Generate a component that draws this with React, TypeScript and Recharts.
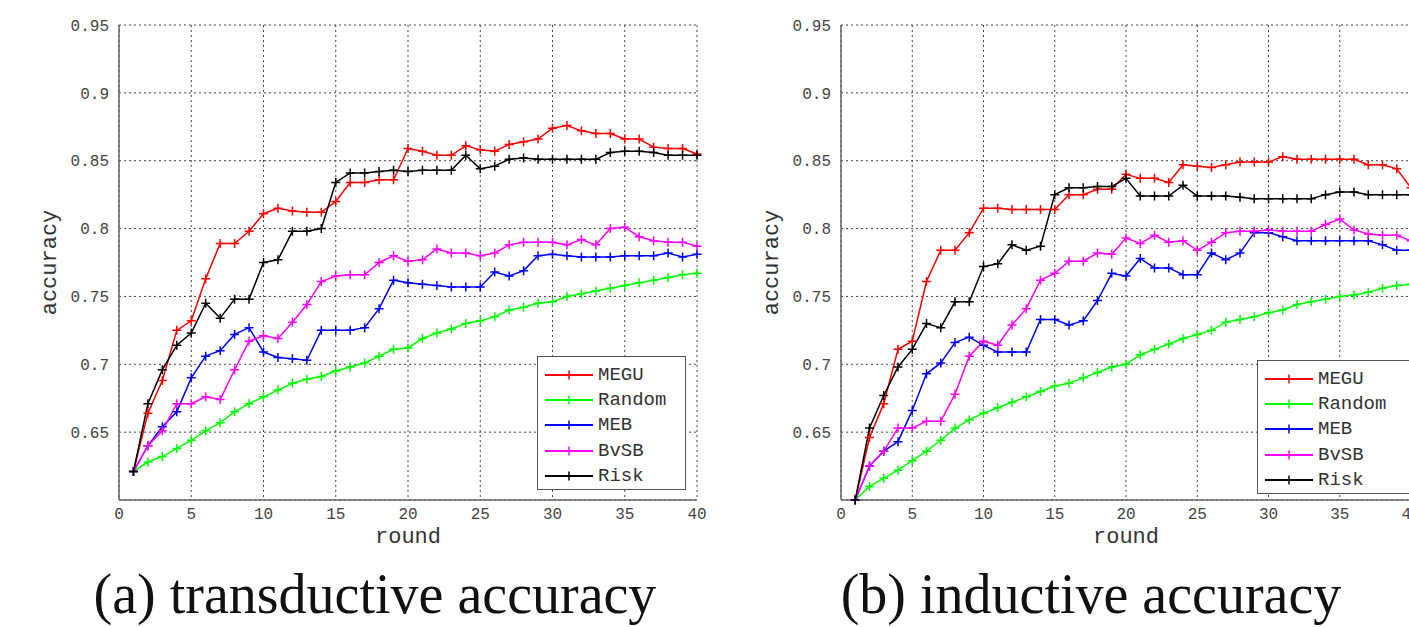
import { LineChart, Line, XAxis, YAxis, CartesianGrid, Legend } from 'recharts';

const rounds = [1, 2, 3, 4, 5, 6, 7, 8, 9, 10, 11, 12, 13, 14, 15, 16, 17, 18, 19, 20,
  21, 22, 23, 24, 25, 26, 27, 28, 29, 30, 31, 32, 33, 34, 35, 36, 37, 38, 39, 40];

const xTicks = [0, 5, 10, 15, 20, 25, 30, 35, 40];
const yTicks = [0.65, 0.7, 0.75, 0.8, 0.85, 0.9, 0.95];

// (a) transductive accuracy
const transMegu = [0.621, 0.664, 0.688, 0.725, 0.732, 0.763, 0.789, 0.789, 0.798, 0.811,
  0.815, 0.813, 0.812, 0.812, 0.82, 0.834, 0.834, 0.836, 0.836, 0.859,
  0.857, 0.854, 0.854, 0.861, 0.858, 0.857, 0.862, 0.864, 0.866, 0.874,
  0.876, 0.872, 0.87, 0.87, 0.866, 0.866, 0.86, 0.859, 0.859, 0.855];
const transRandom = [0.621, 0.628, 0.632, 0.638, 0.644, 0.651, 0.657, 0.665, 0.671, 0.676,
  0.681, 0.686, 0.689, 0.691, 0.695, 0.698, 0.701, 0.706, 0.711, 0.712,
  0.719, 0.723, 0.726, 0.73, 0.732, 0.735, 0.74, 0.742, 0.745, 0.746,
  0.75, 0.752, 0.754, 0.756, 0.758, 0.76, 0.762, 0.764, 0.766, 0.767];
const transMeb = [0.621, 0.64, 0.654, 0.665, 0.69, 0.706, 0.71, 0.722, 0.727, 0.709,
  0.705, 0.704, 0.703, 0.725, 0.725, 0.725, 0.727, 0.741, 0.762, 0.76,
  0.759, 0.758, 0.757, 0.757, 0.757, 0.768, 0.765, 0.769, 0.78, 0.781,
  0.78, 0.779, 0.779, 0.779, 0.78, 0.78, 0.78, 0.782, 0.779, 0.781];
const transBvsb = [0.621, 0.64, 0.651, 0.671, 0.671, 0.676, 0.674, 0.696, 0.717, 0.721,
  0.719, 0.731, 0.744, 0.761, 0.765, 0.766, 0.766, 0.775, 0.78, 0.776,
  0.777, 0.785, 0.782, 0.782, 0.78, 0.782, 0.788, 0.79, 0.79, 0.79,
  0.788, 0.792, 0.788, 0.8, 0.801, 0.794, 0.791, 0.79, 0.79, 0.787];
const transRisk = [0.621, 0.671, 0.696, 0.714, 0.723, 0.745, 0.734, 0.748, 0.748, 0.775,
  0.777, 0.798, 0.798, 0.8, 0.834, 0.841, 0.841, 0.842, 0.843, 0.842,
  0.843, 0.843, 0.843, 0.854, 0.844, 0.846, 0.851, 0.852, 0.851, 0.851,
  0.851, 0.851, 0.851, 0.856, 0.857, 0.857, 0.856, 0.854, 0.854, 0.854];

// (b) inductive accuracy
const indMegu = [0.6, 0.646, 0.671, 0.711, 0.717, 0.761, 0.784, 0.784, 0.797, 0.815,
  0.815, 0.814, 0.814, 0.814, 0.814, 0.825, 0.825, 0.829, 0.829, 0.84,
  0.837, 0.837, 0.834, 0.847, 0.846, 0.845, 0.847, 0.849, 0.849, 0.849,
  0.853, 0.851, 0.851, 0.851, 0.851, 0.851, 0.847, 0.847, 0.844, 0.83];
const indRandom = [0.6, 0.61, 0.616, 0.622, 0.629, 0.636, 0.644, 0.653, 0.659, 0.664,
  0.668, 0.672, 0.676, 0.68, 0.684, 0.686, 0.69, 0.694, 0.698, 0.7,
  0.707, 0.711, 0.715, 0.719, 0.722, 0.725, 0.731, 0.733, 0.735, 0.738,
  0.74, 0.744, 0.746, 0.748, 0.75, 0.751, 0.753, 0.756, 0.758, 0.759];
const indMeb = [0.6, 0.625, 0.636, 0.643, 0.666, 0.693, 0.701, 0.716, 0.72, 0.714,
  0.709, 0.709, 0.709, 0.733, 0.733, 0.729, 0.732, 0.747, 0.767, 0.765,
  0.778, 0.771, 0.771, 0.766, 0.766, 0.782, 0.777, 0.782, 0.797, 0.797,
  0.794, 0.791, 0.791, 0.791, 0.791, 0.791, 0.791, 0.788, 0.784, 0.784];
const indBvsb = [0.6, 0.625, 0.636, 0.653, 0.653, 0.658, 0.658, 0.678, 0.706, 0.717,
  0.714, 0.729, 0.741, 0.762, 0.767, 0.776, 0.776, 0.782, 0.781, 0.793,
  0.789, 0.795, 0.79, 0.791, 0.784, 0.79, 0.797, 0.798, 0.798, 0.799,
  0.798, 0.798, 0.798, 0.803, 0.807, 0.799, 0.796, 0.795, 0.795, 0.791];
const indRisk = [0.6, 0.653, 0.677, 0.698, 0.711, 0.73, 0.727, 0.746, 0.746, 0.772,
  0.774, 0.788, 0.784, 0.787, 0.825, 0.83, 0.83, 0.831, 0.831, 0.837,
  0.824, 0.824, 0.824, 0.832, 0.824, 0.824, 0.824, 0.823, 0.822, 0.822,
  0.822, 0.822, 0.822, 0.825, 0.827, 0.827, 0.825, 0.825, 0.825, 0.825];

const SERIES = [
  { key: 'megu', name: 'MEGU', color: '#ff0000' },
  { key: 'random', name: 'Random', color: '#00ff00' },
  { key: 'meb', name: 'MEB', color: '#0000ff' },
  { key: 'bvsb', name: 'BvSB', color: '#ff00ff' },
  { key: 'risk', name: 'Risk', color: '#000000' },
];

const buildRows = (megu: number[], random: number[], meb: number[], bvsb: number[], risk: number[]) =>
  rounds.map((r, i) => ({ round: r, megu: megu[i], random: random[i], meb: meb[i], bvsb: bvsb[i], risk: risk[i] }));

const transData = buildRows(transMegu, transRandom, transMeb, transBvsb, transRisk);
const indData = buildRows(indMegu, indRandom, indMeb, indBvsb, indRisk);

const MONO = '"Liberation Mono", "DejaVu Sans Mono", monospace';
const SERIF = '"Liberation Serif", "DejaVu Serif", serif';
const AXIS = '#666';

// '+' marker like matlab
const PlusDot = (props: any) => {
  const { cx, cy, stroke } = props;
  if (cx == null || cy == null) return null;
  return <path d={`M${cx - 4.5},${cy}h9M${cx},${cy - 4.5}v9`} stroke={stroke} strokeWidth={1.5} fill="none" />;
};

const order = (name: string) => SERIES.findIndex((s) => s.name === name);

const LegendBox = ({ payload, width }: any) => {
  const items = [...(payload || [])].sort((a: any, b: any) => order(a.value) - order(b.value));
  return (
    <div
      style={{
        width,
        height: 134,
        boxSizing: 'border-box',
        border: '1.5px solid #555',
        background: '#fff',
        padding: '5px 0 0 6px',
      }}
    >
      {items.map((p: any) => (
        <div key={p.value} style={{ display: 'flex', alignItems: 'center', height: 25.3 }}>
          <svg width={50} height={12} style={{ marginRight: 4 }}>
            <line x1={1} y1={6} x2={49} y2={6} stroke={p.color} strokeWidth={1.8} />
            <path d="M25,1.5v9" stroke={p.color} strokeWidth={1.5} />
          </svg>
          <span style={{ fontFamily: MONO, fontSize: 19, color: '#333' }}>{p.value}</span>
        </div>
      ))}
    </div>
  );
};

function AccuracyChart({ data, legendLeft, legendTop, legendWidth, rightMargin }: any) {
  return (
    <LineChart width={710} height={552} data={data} margin={{ top: 25, right: rightMargin, left: 0, bottom: 0 }}>
      <CartesianGrid stroke="#444" strokeDasharray="2 3" strokeWidth={1} />
      <XAxis
        dataKey="round"
        type="number"
        domain={[0, 40]}
        ticks={xTicks}
        height={52}
        tickLine={false}
        axisLine={{ stroke: AXIS, strokeWidth: 1.5 }}
        tick={{ fontFamily: MONO, fontSize: 16, fill: '#444' }}
        tickMargin={2}
        label={{ value: 'round', position: 'insideBottom', offset: 9, style: { fontFamily: MONO, fontSize: 22, fill: '#333' } }}
      />
      <XAxis xAxisId="top" orientation="top" dataKey="round" type="number" domain={[0, 40]} height={0} tick={false} tickLine={false} axisLine={{ stroke: AXIS, strokeWidth: 1.5 }} />
      <YAxis
        type="number"
        domain={[0.6, 0.95]}
        ticks={yTicks}
        width={119}
        tickLine={false}
        axisLine={{ stroke: AXIS, strokeWidth: 1.5 }}
        tick={{ fontFamily: MONO, fontSize: 16, fill: '#444' }}
        tickMargin={4}
        tickFormatter={(v: number) => String(Number(v.toFixed(2)))}
        label={{ value: 'accuracy', angle: -90, position: 'insideLeft', offset: 48, style: { fontFamily: MONO, fontSize: 22, fill: '#333', textAnchor: 'middle' } }}
      />
      <YAxis yAxisId="right" orientation="right" type="number" domain={[0.6, 0.95]} width={0} tick={false} tickLine={false} axisLine={{ stroke: AXIS, strokeWidth: 1.5 }} />
      {SERIES.map((s) => (
        <Line
          key={s.key}
          type="linear"
          dataKey={s.key}
          name={s.name}
          stroke={s.color}
          strokeWidth={1.5}
          dot={<PlusDot />}
          isAnimationActive={false}
        />
      ))}
      <Legend
        layout="vertical"
        align="center"
        verticalAlign="middle"
        content={(props: any) => <LegendBox payload={props.payload} width={legendWidth} />}
        wrapperStyle={{ left: legendLeft, top: legendTop, width: legendWidth, bottom: 'auto' }}
      />
    </LineChart>
  );
}

export default function App() {
  return (
    <div style={{ position: 'absolute', left: 0, top: 0, width: 1409, height: 627, overflow: 'hidden', background: '#fff' }}>
      <div style={{ position: 'absolute', left: 0, top: 0 }}>
        <AccuracyChart data={transData} legendLeft={537} legendTop={356} legendWidth={149} rightMargin={13} />
      </div>
      <div style={{ position: 'absolute', left: 722, top: 0 }}>
        <AccuracyChart data={indData} legendLeft={535} legendTop={360} legendWidth={160} rightMargin={21} />
      </div>
      <div style={{ position: 'absolute', left: 0, width: 750, top: 562, textAlign: 'center', fontFamily: SERIF, fontSize: 56, color: '#111', whiteSpace: 'nowrap' }}>
        (a) transductive accuracy
      </div>
      <div style={{ position: 'absolute', left: 716, width: 750, top: 562, textAlign: 'center', fontFamily: SERIF, fontSize: 56, color: '#111', whiteSpace: 'nowrap' }}>
        (b) inductive accuracy
      </div>
    </div>
  );
}
